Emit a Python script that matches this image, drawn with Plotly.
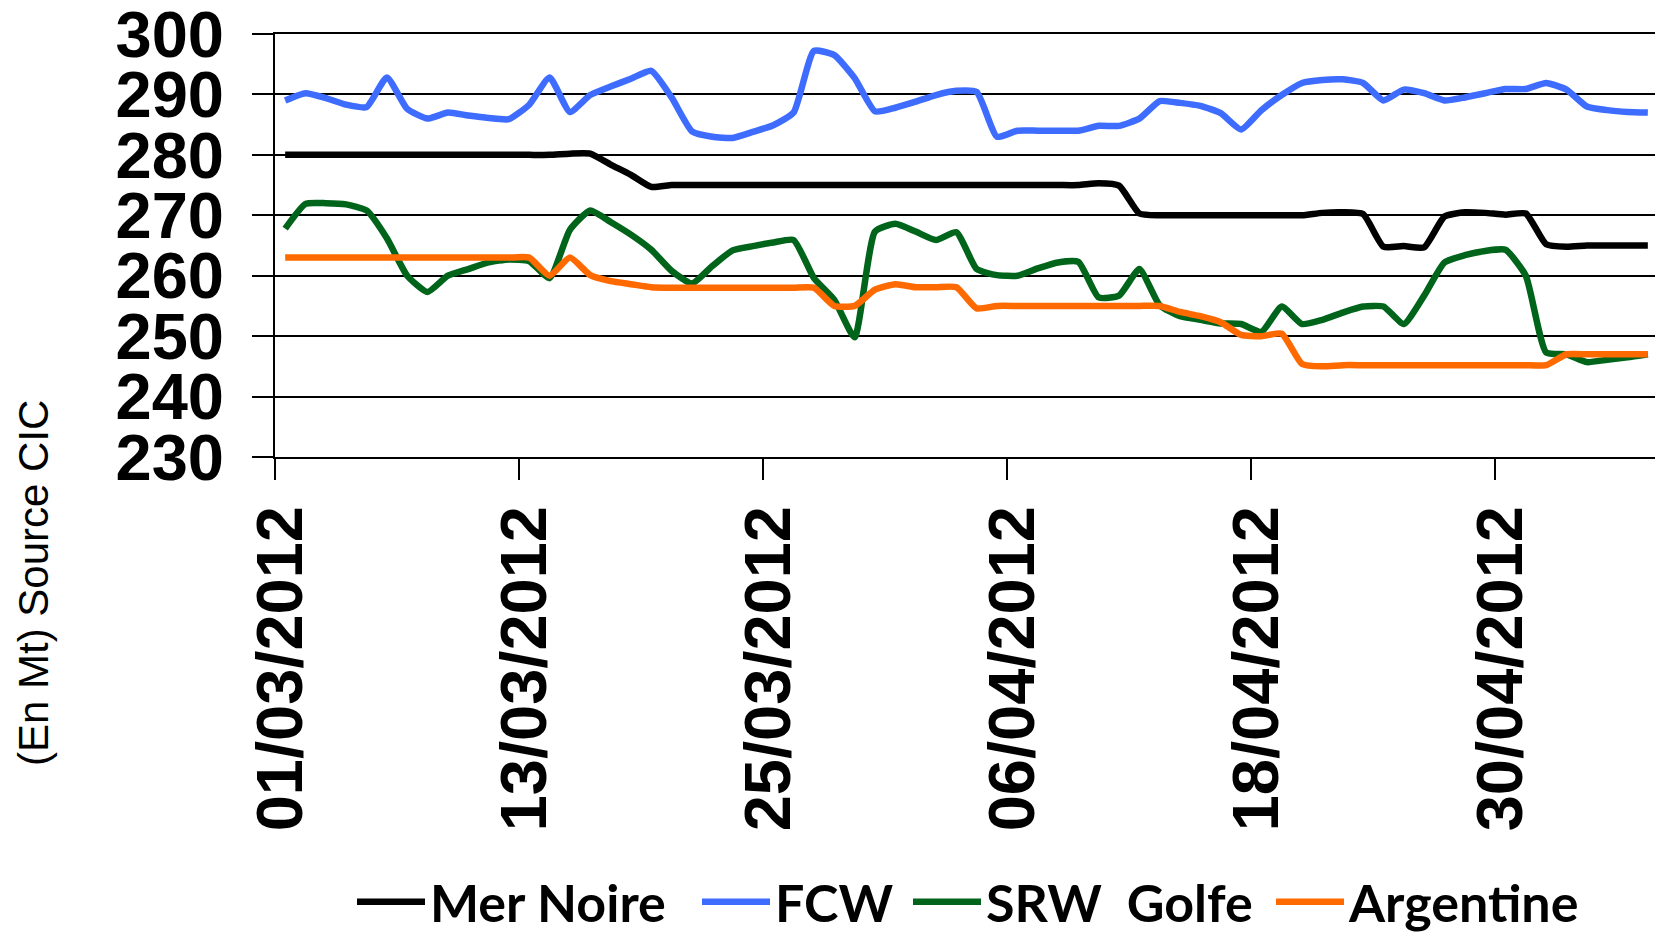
import pandas as pd
import plotly.graph_objects as go

# ---- data (daily, 01/03/2012 -> 07/05/2012) ----
start_date = "2012-03-01 12:00"
n_days = 68

mer_noire = [280.0, 280.0, 280.0, 280.0, 280.0, 280.0, 280.0, 280.0, 280.0, 280.0,
             280.0, 280.0, 280.0, 280.0, 280.2, 280.2, 278.4, 276.7, 274.7, 275.0,
             275.0, 275.0, 275.0, 275.0, 275.0, 275.0, 275.0, 275.0, 275.0, 275.0,
             275.0, 275.0, 275.0, 275.0, 275.0, 275.0, 275.0, 275.0, 275.0, 275.0,
             275.3, 274.9, 270.3, 270.0, 270.0, 270.0, 270.0, 270.0, 270.0, 270.0,
             270.0, 270.4, 270.5, 270.2, 264.8, 264.9, 264.7, 269.8, 270.5, 270.4,
             270.1, 270.3, 265.2, 264.8, 265.0, 265.0, 265.0, 265.0]

fcw = [289.0, 290.2, 289.4, 288.3, 287.9, 292.8, 287.6, 286.0, 287.0, 286.5,
       286.1, 285.9, 288.3, 292.8, 287.1, 289.9, 291.3, 292.6, 293.9, 289.5,
       283.9, 283.0, 282.8, 283.8, 284.9, 287.0, 297.2, 296.5, 292.7, 287.2,
       287.8, 288.8, 289.9, 290.6, 290.4, 283.0, 284.0, 284.0, 284.0, 284.0,
       284.8, 284.8, 286.0, 288.9, 288.6, 288.1, 286.9, 284.2, 287.4, 289.9,
       291.9, 292.4, 292.5, 291.9, 289.0, 290.8, 290.2, 289.0, 289.5, 290.2,
       290.9, 290.9, 291.9, 290.8, 288.0, 287.4, 287.1, 287.0]

srw_golfe = [267.8, 271.9, 272.0, 271.8, 270.8, 266.2, 260.0, 257.3, 260.0, 261.1,
             262.2, 262.7, 262.4, 259.6, 267.6, 270.8, 268.9, 266.8, 264.3, 260.8,
             258.7, 261.6, 264.2, 264.9, 265.5, 265.9, 259.6, 256.0, 249.8, 267.3,
             268.6, 267.3, 265.9, 267.2, 261.1, 260.1, 260.0, 261.2, 262.2, 262.3,
             256.4, 256.7, 261.1, 255.1, 253.3, 252.7, 252.1, 252.0, 250.7, 254.9,
             252.0, 252.7, 253.9, 254.9, 254.9, 252.0, 256.7, 262.2, 263.4, 264.1,
             264.3, 260.0, 247.3, 247.0, 245.7, 246.1, 246.5, 247.0]

argentine = [263.0, 263.0, 263.0, 263.0, 263.0, 263.0, 263.0, 263.0, 263.0, 263.0,
             263.0, 263.0, 263.0, 260.0, 263.0, 260.1, 259.1, 258.6, 258.1, 258.0,
             258.0, 258.0, 258.0, 258.0, 258.0, 258.0, 258.0, 255.0, 255.0, 257.7,
             258.6, 258.1, 258.1, 258.1, 254.6, 255.0, 255.0, 255.0, 255.0, 255.0,
             255.0, 255.0, 255.0, 255.0, 254.0, 253.3, 252.3, 250.2, 250.0, 250.4,
             245.4, 245.0, 245.2, 245.2, 245.2, 245.2, 245.2, 245.2, 245.2, 245.2,
             245.2, 245.2, 245.2, 247.0, 247.0, 247.0, 247.0, 247.0]

tick_dates = ["2012-03-01", "2012-03-13", "2012-03-25", "2012-04-06", "2012-04-18", "2012-04-30"]
tick_labels = ["01/03/2012", "13/03/2012", "25/03/2012", "06/04/2012", "18/04/2012", "30/04/2012"]
y_ticks = [230, 240, 250, 260, 270, 280, 290, 300]

series_names = ["Mer Noire", "FCW", "SRW\u00a0 Golfe", "Argentine"]
series_colors = ["#000000", "#3d6cff", "#00641a", "#ff6a00"]

# ---- page geometry (the page body adds an 8px offset) ----
W, H = 1655, 929
PX0, PX1 = 275, 1658          # plot area left/right in window px
PY0, PY1 = 34, 457            # plot area top/bottom in window px
OFF = 8
x_range = ["2012-03-01", "2012-05-08"]


def paper_x(px):
    return (px - PX0) / (PX1 - PX0)


def paper_y(py):
    return (PY1 - py) / (PY1 - PY0)


legend_keys = ["legend", "legend2", "legend3", "legend4"]
legend_line_starts = [358, 703, 914, 1277]

dates = pd.date_range(start_date, periods=n_days, freq="D")

fig = go.Figure()
for name, vals, col, lk in zip(series_names, [mer_noire, fcw, srw_golfe, argentine],
                               series_colors, legend_keys):
    fig.add_trace(go.Scatter(
        x=dates, y=vals, name=name, mode="lines", legend=lk,
        line=dict(color=col, width=6.5, shape="spline", smoothing=0.5),
    ))

tick_font = dict(family="Liberation Sans, Arial, sans-serif", size=65, color="#000000", weight="bold")
legend_font = dict(family="Lato, Liberation Sans, sans-serif", size=52, color="#000000", weight="bold")

layout_legends = {}
for lk, ls in zip(legend_keys, legend_line_starts):
    layout_legends[lk] = dict(
        orientation="h", x=paper_x(ls - 6), xanchor="left",
        y=paper_y(902), yanchor="middle",
        font=legend_font, itemwidth=68, bgcolor="rgba(0,0,0,0)", borderwidth=0,
    )

fig.update_layout(
    width=W, height=H,
    margin=dict(l=PX0 - OFF, r=W - (PX1 - OFF), t=PY0 - OFF, b=H - (PY1 - OFF), autoexpand=False),
    paper_bgcolor="#ffffff", plot_bgcolor="#ffffff",
    showlegend=True,
    xaxis=dict(
        type="date", range=x_range,
        tickmode="array", tickvals=tick_dates, ticktext=tick_labels,
        tickangle=-90, tickfont=tick_font,
        ticks="outside", ticklen=21, tickwidth=2, tickcolor="#000000",
        ticklabelstandoff=0, ticklabelshift=6, ticklabeloverflow="allow",
        showgrid=False, zeroline=False,
        showline=True, linecolor="#000000", linewidth=2, mirror=True,
        automargin=False,
    ),
    yaxis=dict(
        range=[230, 300], tickmode="array", tickvals=y_ticks,
        tickfont=tick_font,
        ticks="outside", ticklen=21, tickwidth=2, tickcolor="#000000",
        ticklabelstandoff=15, ticklabeloverflow="allow",
        showgrid=True, gridcolor="#000000", gridwidth=2,
        zeroline=False,
        showline=True, linecolor="#000000", linewidth=2, mirror=True,
        automargin=False,
    ),
    annotations=[dict(
        text="(En Mt) Source CIC", textangle=-90,
        xref="paper", yref="paper", x=paper_x(33), y=paper_y(583),
        xanchor="center", yanchor="middle", showarrow=False,
        font=dict(family="Liberation Sans, Arial, sans-serif", size=42, color="#000000"),
    )],
    **layout_legends,
)

fig.write_html("out.html")
